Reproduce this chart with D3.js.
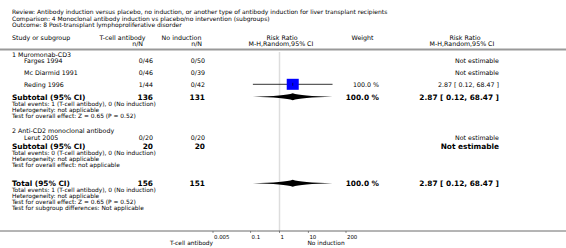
<html>
<script src="https://d3js.org/d3.v7.min.js"></script>
<body style="margin:0;background:#fff"></body>
<script>
const width = 566;
const height = 248;

// data
const titleLines = [
    'Review:  Antibody induction versus placebo, no induction, or another type of antibody induction for liver transplant recipients',
    'Comparison:  4 Monoclonal antibody induction vs placebo/no intervention (subgroups)',
    'Outcome:  8 Post-transplant lymphoproliferative disorder'
];
const groupNames = ['1 Muromonab-CD3', '2 Anti-CD2 monoclonal antibody'];
const studyNames = ['Farges 1994', 'Mc Diarmid 1991', 'Reding 1996', 'Lerut 2005'];
const tcellEvents = [0, 0, 1, 0];
const tcellTotal = [46, 46, 44, 20];
const noIndEvents = [0, 0, 0, 0];
const noIndTotal = [50, 39, 42, 20];
const studyRR = [null, null, 2.87, null];
const studyLo = [null, null, 0.12, null];
const studyHi = [null, null, 68.47, null];
const studyWeight = [null, null, 100.0, null];

const subTcellTotal = [136, 20];
const subNoIndTotal = [131, 20];
const subRR = [2.87, null];
const subLo = [0.12, null];
const subHi = [68.47, null];
const subWeight = [100.0, null];
const subNotes = [
    ['Total events: 1 (T-cell antibody), 0 (No induction)', 'Heterogeneity: not applicable', 'Test for overall effect: Z = 0.65 (P = 0.52)'],
    ['Total events: 0 (T-cell antibody), 0 (No induction)', 'Heterogeneity: not applicable', 'Test for overall effect: not applicable']
];

const totTcell = 156;
const totNoInd = 151;
const totRR = 2.87, totLo = 0.12, totHi = 68.47, totWeight = 100.0;
const totNotes = ['Total events: 1 (T-cell antibody), 0 (No induction)', 'Heterogeneity: not applicable',
    'Test for overall effect: Z = 0.65 (P = 0.52)', 'Test for subgroup differences: Not applicable'];

const tickValues = [0.005, 0.1, 1, 10, 200];
const leftLabel = 'T-cell antibody';
const rightLabel = 'No induction';

// layout
const font = 'DejaVu Sans, Verdana, sans-serif';
const xLeft = 12, xStudy = 24, xN1 = 153, xN2 = 205, xWeight = 379, xCI = 499;
const groupY = [56.5, 133];
const studyY = [63, 74.5, 86.5, 139.5];
const subY = [99.5, 149];
const totY = 186;
const axisY = 231;
const small = 6.3, bold = 7.4, note = 5.9;

const x = d3.scaleLog().domain([0.005, 200]).range([213, 346]);
const fmt = d3.format('.2f');
const ciText = (r, l, h) => `${fmt(r)} [ ${fmt(l)}, ${fmt(h)} ]`;

const svg = d3.select('body').append('svg')
    .attr('width', width).attr('height', height)
    .style('font-family', font);

function txt(s, xx, yy, opt) {
    opt = opt || {};
    return svg.append('text')
        .attr('x', xx).attr('y', yy)
        .attr('font-size', opt.size || small)
        .attr('font-weight', opt.bold ? 'bold' : null)
        .attr('text-anchor', opt.anchor || 'start')
        .attr('fill', '#000')
        .text(s);
}

// title block
titleLines.forEach((t, i) => txt(t, xLeft, 14.3 + i * 6.2, {size: 6}));

// headers
txt('Study or subgroup', xLeft, 40);
txt('T-cell antibody', 122.5, 40, {anchor: 'middle'});
txt('n/N', 143, 46, {anchor: 'end'});
txt('No induction', 181.5, 40, {anchor: 'middle'});
txt('n/N', 202, 46, {anchor: 'end'});
txt('Risk Ratio', 282, 40, {anchor: 'middle'});
txt('M-H,Random,95% CI', 281, 46, {anchor: 'middle'});
txt('Weight', 362.5, 40, {anchor: 'middle'});
txt('Risk Ratio', 465, 40, {anchor: 'middle'});
txt('M-H,Random,95% CI', 462, 46, {anchor: 'middle'});

svg.append('line').attr('x1', 0).attr('x2', width).attr('y1', 49.5).attr('y2', 49.5)
    .attr('stroke', '#999').attr('stroke-width', 2);

// line of no effect
svg.append('line').attr('x1', x(1)).attr('x2', x(1)).attr('y1', 52).attr('y2', axisY)
    .attr('stroke', '#ddd').attr('stroke-width', 1.5);

// groups
groupNames.forEach((g, gi) => txt(g, xLeft, groupY[gi]));

studyNames.forEach((s, i) => {
    const y = studyY[i];
    txt(s, xStudy, y);
    txt(`${tcellEvents[i]}/${tcellTotal[i]}`, xN1, y, {anchor: 'end'});
    txt(`${noIndEvents[i]}/${noIndTotal[i]}`, xN2, y, {anchor: 'end'});
    if (studyRR[i] == null) {
        txt('Not estimable', xCI, y, {anchor: 'end'});
    } else {
        const cy = y - 2.2;
        svg.append('line').attr('x1', x(studyLo[i])).attr('x2', x(studyHi[i]))
            .attr('y1', cy).attr('y2', cy).attr('stroke', '#000').attr('stroke-width', 0.8);
        svg.append('rect').attr('x', x(studyRR[i]) - 6).attr('y', cy - 5.5)
            .attr('width', 12).attr('height', 11).attr('fill', '#0000ff');
        svg.append('line').attr('x1', x(studyRR[i])).attr('x2', x(studyRR[i]))
            .attr('y1', cy - 1.5).attr('y2', cy + 1.5).attr('stroke', '#000').attr('stroke-width', 0.6);
        txt(`${d3.format('.1f')(studyWeight[i])} %`, xWeight, y, {anchor: 'end'});
        txt(ciText(studyRR[i], studyLo[i], studyHi[i]), xCI, y, {anchor: 'end'});
    }
});

function diamond(rr, lo, hi, cy) {
    const h = 3.5;
    const l = x(lo), m = x(rr), r = x(hi);
    const p = d3.path();
    p.moveTo(l, cy);
    p.quadraticCurveTo(m - 8, cy - 0.8, m, cy - h);
    p.quadraticCurveTo(m + 8, cy - 0.8, r, cy);
    p.quadraticCurveTo(m + 8, cy + 0.8, m, cy + h);
    p.quadraticCurveTo(m - 8, cy + 0.8, l, cy);
    p.closePath();
    svg.append('path').attr('d', p.toString()).attr('fill', '#000');
}

// subtotals
subY.forEach((y, gi) => {
    txt('Subtotal (95% CI)', xLeft, y, {bold: true, size: bold});
    txt(subTcellTotal[gi], xN1, y, {bold: true, size: bold, anchor: 'end'});
    txt(subNoIndTotal[gi], xN2, y, {bold: true, size: bold, anchor: 'end'});
    if (subRR[gi] == null) {
        txt('Not estimable', xCI, y, {bold: true, size: bold, anchor: 'end'});
    } else {
        diamond(subRR[gi], subLo[gi], subHi[gi], y - 2.7);
        txt(`${d3.format('.1f')(subWeight[gi])} %`, xWeight, y, {bold: true, size: bold, anchor: 'end'});
        txt(ciText(subRR[gi], subLo[gi], subHi[gi]), xCI, y, {bold: true, size: bold, anchor: 'end'});
    }
    subNotes[gi].forEach((n, k) => txt(n, xLeft, y + 6 + k * 6, {size: note}));
});

// overall total
txt('Total (95% CI)', xLeft, totY, {bold: true, size: bold});
txt(totTcell, xN1, totY, {bold: true, size: bold, anchor: 'end'});
txt(totNoInd, xN2, totY, {bold: true, size: bold, anchor: 'end'});
diamond(totRR, totLo, totHi, totY - 2.7);
txt(`${d3.format('.1f')(totWeight)} %`, xWeight, totY, {bold: true, size: bold, anchor: 'end'});
txt(ciText(totRR, totLo, totHi), xCI, totY, {bold: true, size: bold, anchor: 'end'});
totNotes.forEach((n, k) => txt(n, xLeft, totY + 6 + k * 6, {size: note}));

// axis
svg.append('line').attr('x1', 0).attr('x2', width).attr('y1', axisY).attr('y2', axisY)
    .attr('stroke', '#444').attr('stroke-width', 0.8);
const tg = svg.selectAll('g.tick').data(tickValues).enter().append('g').attr('class', 'tick');
tg.append('line').attr('x1', d => x(d)).attr('x2', d => x(d))
    .attr('y1', axisY).attr('y2', axisY + 2).attr('stroke', '#444').attr('stroke-width', 0.6);
tg.append('text').attr('x', d => x(d) + 1).attr('y', axisY + 7.5)
    .attr('font-size', 5.4).text(d => d);
txt(leftLabel, x(0.005), axisY + 14, {anchor: 'end', size: note});
txt(rightLabel, x(10) - 1, axisY + 14, {size: note});
</script>
</html>
